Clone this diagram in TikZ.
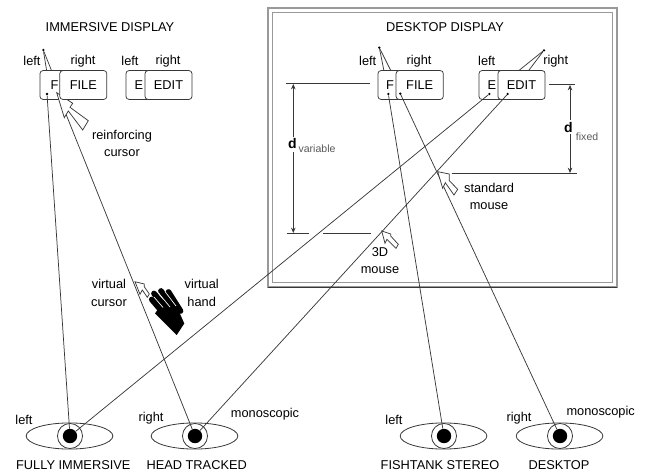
\documentclass[tikz,border=0pt]{standalone}
\usepackage{fontspec}
\setmainfont{Liberation Sans}
\usetikzlibrary{arrows.meta,shapes.geometric}
\definecolor{ink}{gray}{0.22}
\definecolor{framegray}{gray}{0.6}
\tikzset{
  lab/.style={inner sep=0pt,text=black,font=\fontsize{9.6}{11.5}\selectfont,align=center},
  subl/.style={inner sep=0pt,anchor=west,text=black!65,font=\fontsize{7.9}{9}\selectfont},
  dlab/.style={inner sep=0pt,font=\bfseries\fontsize{10.5}{12}\selectfont},
  btn/.style={draw=ink,line width=.55pt,rounded corners=2.2pt,fill=white,inner sep=0pt,minimum height=21.6pt,text=black,font=\fontsize{9.6}{11.5}\selectfont},
  ray/.style={draw=ink,line width=.55pt},
  rule/.style={draw=ink,line width=.55pt},
  dim/.style={draw=ink,line width=.55pt,-{Stealth[length=4pt,width=3.4pt]}},
  dotn/.style={circle,fill=black,inner sep=0pt,minimum size=1.9pt},
  eyeo/.style={ellipse,draw=ink,line width=.6pt,inner sep=0pt,minimum width=65pt,minimum height=19.6pt},
  ringn/.style={circle,draw=ink,line width=.6pt,fill=white,inner sep=0pt,minimum size=18.8pt},
  pupil/.style={circle,fill=black,inner sep=0pt,minimum size=10.8pt},
  curs/.style={draw=ink,line width=.55pt,fill=white,line join=miter},
}
\begin{document}
\begin{tikzpicture}[x=.75pt,y=-.75pt]
\useasboundingbox (0,0) rectangle (645,474);
% desktop frame
\draw[framegray,line width=1pt] (268,8) rectangle (617,287);
\draw[ink,line width=.7pt] (268,287.3) -- (617,287.3);
\draw[framegray,line width=1pt] (272.3,12.3) rectangle (612.6,282.5);
% titles
\node[lab] at (110,27) {IMMERSIVE DISPLAY};
\node[lab] at (445,27) {DESKTOP DISPLAY};
% eyes
\foreach \n/\x in {A/70,B/195,C/444,D/560}{
  \node[eyeo] (eye\n) at (\x-.5,436) {};
  \node[ringn] (ring\n) at (\x,436) {};
  \node[pupil] (pup\n) at (\x,436) {};
}
% top dots and their rays (behind the buttons)
\node[dotn] (tl) at (43.3,50) {};
\coordinate (tla) at (46.7,71);
\coordinate (tlb) at (51.7,71);
\draw[ray] (tl) -- (tla);
\draw[ray] (tl) -- (tlb);
\node[dotn] (tf) at (379.3,47.7) {};
\coordinate (tfa) at (384,71);
\coordinate (tfb) at (391,71);
\draw[ray] (tf) -- (tfa);
\draw[ray] (tf) -- (tfb);
\node[dotn] (te) at (544,50.3) {};
\coordinate (tea) at (518.3,71);
\coordinate (teb) at (528.3,71);
\draw[ray] (te) -- (tea);
\draw[ray] (te) -- (teb);
% buttons, lower layer
\node[btn,minimum width=27pt] (iF) at (58,85) {};
\node[btn,minimum width=27pt] (iE) at (144,85) {};
\node[btn,minimum width=27pt] (dF) at (396,85) {};
\node[btn,minimum width=27pt] (dE) at (497,85) {};
\node[lab] at (54.5,85) {F};
\node[lab] at (139,85) {E};
\node[lab] at (390,85) {F};
\node[lab] at (492,85) {E};
% ray under the reinforcing cursor
\coordinate (tipR) at (57.5,93);
\draw[ray] (pupB) -- (tipR);
% reinforcing cursor
\draw[curs] (56.7,92.7) -- (64.3,117.7) -- (68.3,111) -- (82.7,130) -- (88.3,120.7) -- (70,107.3) -- (72.7,103.3) -- cycle;
% buttons, upper layer
\node[btn,minimum width=35.2pt] (iFILE) at (83.3,85) {FILE};
\node[btn,minimum width=35.2pt] (iEDIT) at (168.5,85) {EDIT};
\node[btn,minimum width=35.4pt] (dFILE) at (419.7,85) {FILE};
\node[btn,minimum width=35.4pt] (dEDIT) at (521.5,85) {EDIT};
% gaze dots and rays
\node[dotn] (gA) at (47,94) {};
\node[dotn] (gB) at (489.3,94) {};
\node[dotn] (gC) at (507.7,94) {};
\node[dotn] (gD) at (388.3,94) {};
\node[dotn] (gE) at (400.3,93.7) {};
\draw[ray] (gA) -- (pupA);
\draw[ray] (gB) -- (pupA);
\draw[ray] (gC) -- (pupB);
\draw[ray] (gD) -- (pupC);
\draw[ray] (gE) -- (pupD);
% dimension rules
\draw[rule] (286,83.3) -- (370,83.3);
\draw[rule] (286.7,233.3) -- (309,233.3);
\draw[rule] (322.7,233.3) -- (370.7,233.3);
\draw[rule] (549.3,84.3) -- (575,84.3);
\draw[rule] (451.7,173.3) -- (576.7,173.3);
\coordinate (va) at (293.3,137);
\coordinate (vb) at (293.3,84);
\coordinate (vc) at (293.3,152);
\coordinate (vd) at (293.3,233);
\draw[dim] (va) -- (vb);
\draw[dim] (vc) -- (vd);
\coordinate (fa) at (570,120);
\coordinate (fb) at (570,85);
\coordinate (fc) at (570,134);
\coordinate (fd) at (570,173);
\draw[dim] (fa) -- (fb);
\draw[dim] (fc) -- (fd);
\node[dlab] at (292.3,143.5) {d};
\node[subl] at (298.3,149) {variable};
\node[dlab] at (568.3,127.5) {d};
\node[subl] at (575.7,136.7) {fixed};
% cursors
\draw[curs] (437.7,171.7) -- (442.7,188.3) -- (445.3,182.7) -- (454,195) -- (457.7,189.3) -- (449.3,180.7) -- (449.3,174) -- cycle;
\draw[curs] (381.7,231) -- (385,243.3) -- (387,239.3) -- (396,248.3) -- (398.3,244.3) -- (390.7,236) -- (390.7,234) -- cycle;
\draw[curs] (135,281.7) -- (140,294.3) -- (142.3,290) -- (147.3,297.3) -- (149.3,294) -- (144.3,286.7) -- (144.3,284) -- cycle;
% virtual hand
\fill[black] (155,313.5) -- (158,309) -- (155,303) -- (172,296) -- (184.3,323.5) -- (176.7,335) -- cycle;
\draw[black,line width=4.3pt,line cap=round] (151.8,299.5) -- (165,315);
\draw[black,line width=4.3pt,line cap=round] (154,293.5) -- (168,310);
\draw[black,line width=4.3pt,line cap=round] (161,291) -- (174,309);
\draw[black,line width=4.3pt,line cap=round] (168.5,292) -- (180.5,311);
\draw[white,line width=.5pt] (154,297) -- (163,307.5);
\draw[white,line width=.5pt] (158.5,293) -- (170,307);
\draw[white,line width=.5pt] (165,291.5) -- (176,306);
% labels
\foreach \x/\t in {32/left,83/right,130/left,168/right,367.7/left,419/right,486.7/left,555.7/right}{
  \node[lab] at (\x,61) {\t};
}
\node[lab] at (122,143.5) {reinforcing\\[1.6pt]cursor};
\node[lab] at (109,293) {virtual\\[1.6pt]cursor};
\node[lab] at (201.7,293) {virtual\\[1.6pt]hand};
\node[lab] at (489,196.5) {standard\\[1.6pt]mouse};
\node[lab] at (380,260.5) {3D\\[1.6pt]mouse};
\node[lab] at (24,420) {left};
\node[lab] at (151,417.7) {right};
\node[lab] at (265,414) {monoscopic};
\node[lab] at (394,420) {left};
\node[lab] at (519,418) {right};
\node[lab] at (600.7,412) {monoscopic};
\node[lab] at (73.3,465) {FULLY IMMERSIVE};
\node[lab] at (196.7,465) {HEAD TRACKED};
\node[lab] at (440,465) {FISHTANK STEREO};
\node[lab] at (559,465) {DESKTOP};
\end{tikzpicture}
\end{document}
